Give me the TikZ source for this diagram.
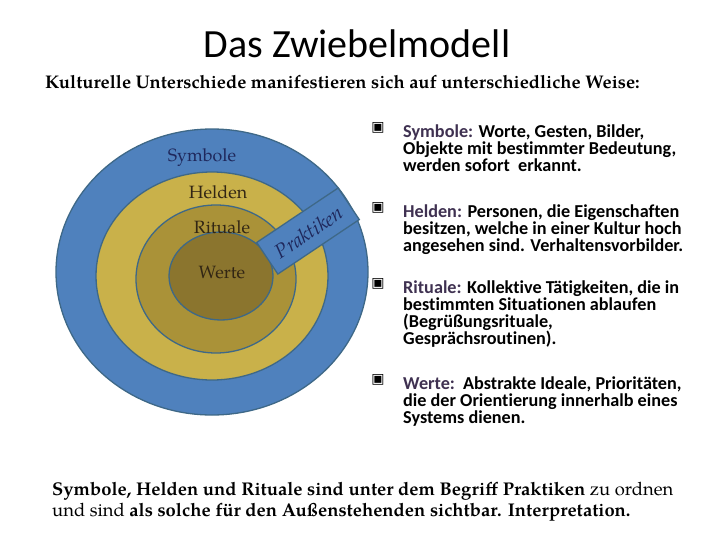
\documentclass[tikz,border=0pt]{standalone}
\usepackage{fontspec}
\setmainfont{Carlito}[Ligatures=NoCommon]
\newfontfamily\pag{texgyrepagella}[Extension=.otf, UprightFont=*-regular, BoldFont=*-bold, ItalicFont=*-italic, BoldItalicFont=*-bolditalic]
\newfontfamily\dejavu{DejaVu Sans}
\definecolor{ringblue}{RGB}{79,129,189}
\definecolor{ringyellow}{RGB}{201,177,74}
\definecolor{ringolive}{RGB}{170,146,56}
\definecolor{ringcore}{RGB}{139,117,46}
\definecolor{ringedge}{RGB}{62,104,135}
\definecolor{navytext}{RGB}{31,40,92}
\definecolor{browntext}{RGB}{50,38,20}
\definecolor{labelpurple}{RGB}{63,49,81}
\newcommand{\linestack}[1]{\vtop{\lineskiplimit=-100pt\lineskip=0pt\baselineskip=17pt #1}}
\tikzset{
  ring/.style={draw=ringedge, line width=1.3pt},
  ringlabel/.style={font=\pag\fontsize{17.8}{20}\selectfont, text=browntext, inner sep=0pt},
  bullettext/.style={anchor=base west, inner sep=0pt, font=\bfseries\fontsize{18.2}{17}\selectfont},
  bulletmark/.style={font=\dejavu\fontsize{14}{14}\selectfont, inner sep=0pt},
  lab/.style={text=labelpurple}
}
\begin{document}
\begin{tikzpicture}[x=1pt,y=-1pt]
\useasboundingbox (0,0) rectangle (728,546);
\fill[white] (0,0) rectangle (728,546);
% title
\node[anchor=base, inner sep=0pt, font=\fontsize{40}{44}\selectfont] (title) at (357,57) {Das Zwiebelmodell};
\node[anchor=base west, inner sep=0pt, font=\pag\bfseries\fontsize{18.3}{20}\selectfont] (sub) at (45,88) {Kulturelle Unterschiede manifestieren sich auf unterschiedliche Weise:};
% onion
\fill[ring, fill=ringblue] (212,272) ellipse [x radius=156, y radius=143];
\fill[ring, fill=ringyellow] (212,276) ellipse [x radius=116, y radius=104];
\fill[ring, fill=ringolive] (216,279) ellipse [x radius=80, y radius=74];
\fill[ring, fill=ringcore] (221,276) ellipse [x radius=52, y radius=44];
\node[ring, fill=ringblue, rotate=33.8, minimum width=98pt, minimum height=38pt, inner sep=0pt] (prak) at (308,231) {};
\node[rotate=33.8, font=\pag\itshape\fontsize{20}{22}\selectfont, text=navytext, inner sep=0pt] (praklabel) at (309,232) {Praktiken};
\node[ringlabel, text=navytext] (lsym) at (202,158) {Symbole};
\node[ringlabel] (lhel) at (218,192) {Helden};
\node[ringlabel] (lrit) at (222,227) {Rituale};
\node[ringlabel] (lwer) at (222,272) {Werte};
% bullets
\node[bulletmark] (b1) at (378,128) {▣};
\node[bullettext] (t1) at (403,137) {\linestack{\hbox{\textcolor{labelpurple}{Symbole:} Worte, Gesten, Bilder,}\hbox{Objekte mit bestimmter Bedeutung,}\hbox{werden sofort\ \ erkannt.}}};
\node[bulletmark] (b2) at (378,208) {▣};
\node[bullettext] (t2) at (403,217) {\linestack{\hbox{\textcolor{labelpurple}{Helden:} Personen, die Eigenschaften}\hbox{besitzen, welche in einer Kultur hoch}\hbox{angesehen sind. Verhaltensvorbilder.}}};
\node[bulletmark] (b3) at (378,284) {▣};
\node[bullettext] (t3) at (403,293) {\linestack{\hbox{\textcolor{labelpurple}{Rituale:} Kollektive Tätigkeiten, die in}\hbox{bestimmten Situationen ablaufen}\hbox{(Begrüßungsrituale,}\hbox{Gesprächsroutinen).}}};
\node[bulletmark] (b4) at (378,380) {▣};
\node[bullettext] (t4) at (403,389) {\linestack{\hbox{\textcolor{labelpurple}{Werte:}\ \ Abstrakte Ideale, Prioritäten,}\hbox{die der Orientierung innerhalb eines}\hbox{Systems dienen.}}};
% bottom text
\node[anchor=base west, inner sep=0pt, font=\pag\fontsize{18.4}{21}\selectfont] (bot1) at (52,495) {\textbf{Symbole, Helden und Rituale sind unter dem Begriff Praktiken} zu ordnen};
\node[anchor=base west, inner sep=0pt, font=\pag\fontsize{18.4}{21}\selectfont] (bot2) at (52,516) {und sind \textbf{als solche für den Außenstehenden sichtbar. Interpretation.}};
\end{tikzpicture}
\end{document}
